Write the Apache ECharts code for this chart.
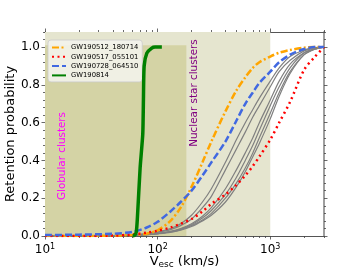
<!DOCTYPE html>
<html>
<head>
<meta charset="utf-8">
<script src="https://cdn.jsdelivr.net/npm/echarts@6/dist/echarts.min.js"></script>
<style>html,body{margin:0;padding:0;background:#fff}#c{width:360px;height:270px}</style>
</head>
<body>
<div id="c"></div>
<script>
// ---- data ----
const vGrid = [10,20,40,60,80,100,130,160,200,250,300,400,500,600,700,800,1000,1200,1500,2000,2500,3000];
const orangeP = [0,0,0.002,0.005,0.012,0.03,0.08,0.15,0.26,0.39,0.50,0.66,0.77,0.84,0.89,0.92,0.95,0.97,0.985,0.997,1.0,1.0];
const redP    = [0,0,0.002,0.008,0.018,0.028,0.045,0.065,0.09,0.13,0.17,0.22,0.27,0.32,0.37,0.42,0.51,0.60,0.71,0.88,0.95,1.0];
const blueP   = [0.005,0.007,0.012,0.022,0.045,0.075,0.13,0.18,0.24,0.32,0.39,0.50,0.61,0.70,0.76,0.81,0.87,0.92,0.96,0.99,1.0,1.0];
const greenV  = [60,62,64.6,66.1,69.9,73.8,74.8,75.9,80.2,88.7,95,109];
const greenP  = [0,0.002,0.02,0.094,0.36,0.54,0.72,0.90,0.968,0.995,1.0,1.0];
const grayP = [
  [0,0,0.002,0.006,0.013,0.022,0.04,0.065,0.11,0.18,0.25,0.39,0.51,0.60,0.67,0.73,0.82,0.89,0.95,0.985,0.997,1.0],
  [0,0,0.002,0.005,0.011,0.019,0.034,0.055,0.09,0.15,0.21,0.35,0.46,0.55,0.63,0.69,0.79,0.87,0.93,0.98,0.995,1.0],
  [0,0,0.001,0.004,0.008,0.014,0.025,0.04,0.065,0.105,0.15,0.25,0.35,0.44,0.52,0.60,0.72,0.82,0.91,0.97,0.99,1.0],
  [0,0,0.001,0.004,0.008,0.013,0.023,0.037,0.06,0.095,0.135,0.22,0.31,0.40,0.48,0.56,0.69,0.79,0.89,0.97,0.99,1.0],
  [0,0,0.001,0.003,0.007,0.012,0.021,0.034,0.055,0.085,0.12,0.20,0.28,0.36,0.44,0.52,0.65,0.76,0.87,0.96,0.99,1.0],
  [0,0,0.001,0.003,0.006,0.011,0.019,0.031,0.05,0.08,0.11,0.18,0.26,0.34,0.42,0.49,0.62,0.74,0.86,0.96,0.99,1.0]
];
const legendNames = ['GW190512_180714','GW190517_055101','GW190728_064510','GW190814'];
const globularRange = [10,180];
const nuclearRange = [10,1000];
const xMajor = [10,100,1000];
const xMinor = [20,30,40,50,60,70,80,90,200,300,400,500,600,700,800,900,2000,3000];
const yMajor = [0,0.2,0.4,0.6,0.8,1.0];
const yMinor = [0.04,0.08,0.12,0.16,0.24,0.28,0.32,0.36,0.44,0.48,0.52,0.56,0.64,0.68,0.72,0.76,0.84,0.88,0.92,0.96,1.04,1.08];

const zip = (xs, ys) => xs.map((x, i) => [x, ys[i]]);
const FONT = 'DejaVu Sans';
const spine = '#555';

function xAx(pos, major, show) {
  return {
    type: 'log', logBase: 10, min: 10, max: 3000, position: pos,
    axisLine: { show: true, onZero: false, lineStyle: { color: spine, width: 1 } },
    axisTick: { show: true, inside: false, length: major ? 3.5 : 2, customValues: major ? xMajor : xMinor,
      lineStyle: { color: '#444', width: 0.8 } },
    axisLabel: show ? {
      show: true, customValues: xMajor, margin: 7, color: '#000', fontFamily: FONT, fontSize: 12,
      formatter: v => '10{sup|' + Math.round(Math.log10(v)) + '}',
      rich: { sup: { fontSize: 8, verticalAlign: 'top', fontFamily: FONT, color: '#000', padding: [0,0,6,0] } }
    } : { show: false },
    splitLine: { show: false }, minorTick: { show: false }
  };
}
function yAx(pos, major, show, color) {
  return {
    type: 'value', min: 0, max: 1.08, interval: 0.2, position: pos,
    axisLine: { show: true, onZero: false, lineStyle: { color: color || spine, width: color ? 1.5 : 1 } },
    axisTick: { show: true, inside: false, length: major ? 3.5 : 2, customValues: major ? yMajor : yMinor,
      lineStyle: { color: '#444', width: 0.8 } },
    axisLabel: show ? { show: true, customValues: yMajor, margin: 5, color: '#000', fontFamily: FONT, fontSize: 12,
      formatter: v => v.toFixed(1) } : { show: false },
    splitLine: { show: false }
  };
}

const series = [];
grayP.forEach((g, i) => {
  const s = {
    name: 'other' + i, type: 'line', data: zip(vGrid, g), smooth: 0.3, symbol: 'none',
    lineStyle: { color: '#808080', width: 1.2 }, silent: true, z: 3
  };
  if (i === 0) {
    s.markArea = {
      silent: true,
      data: [
        [{ xAxis: nuclearRange[0], itemStyle: { color: '#e5e5cf' } }, { xAxis: nuclearRange[1] }],
        [{ xAxis: globularRange[0], yAxis: 0, itemStyle: { color: '#d4d3a5' } }, { xAxis: globularRange[1], yAxis: 1.01 }]
      ]
    };
  }
  series.push(s);
});
series.push({ name: legendNames[0], type: 'line', data: zip(vGrid, orangeP), smooth: 0.3, symbol: 'none', z: 4,
  lineStyle: { color: '#ffa500', width: 2.5, type: [7, 2.5, 2, 2.5] }, itemStyle: { color: '#ffa500' } });
series.push({ name: legendNames[1], type: 'line', data: zip(vGrid, redP), smooth: 0.3, symbol: 'none', z: 4,
  lineStyle: { color: '#ff0000', width: 2.5, type: [2, 3.5] }, itemStyle: { color: '#ff0000' } });
series.push({ name: legendNames[2], type: 'line', data: zip(vGrid, blueP), smooth: 0.3, symbol: 'none', z: 4,
  lineStyle: { color: '#4169e1', width: 2.5, type: [7, 3] }, itemStyle: { color: '#4169e1' } });
series.push({ name: legendNames[3], type: 'line', data: zip(greenV, greenP), smooth: 0.2, symbol: 'none', z: 5,
  lineStyle: { color: '#008000', width: 3.5 }, itemStyle: { color: '#008000' } });

const chart = echarts.init(document.getElementById('c'), null, { renderer: 'canvas' });
chart.setOption({
  animation: false,
  backgroundColor: '#fff',
  grid: { left: 45, right: 36, top: 32, bottom: 34, containLabel: false, outerBoundsMode: 'none' },
  xAxis: [
    Object.assign(xAx('bottom', true, true), {
      name: 'V{sub|esc} (km/s)', nameLocation: 'middle', nameGap: 18, nameMoveOverlap: false,
      nameTextStyle: { fontFamily: FONT, fontSize: 13, color: '#000',
        rich: { sub: { fontSize: 9, verticalAlign: 'bottom', fontFamily: FONT, color: '#000', padding: [6,0,0,0] } } }
    }),
    xAx('bottom', false, false),
    xAx('top', true, false),
    xAx('top', false, false)
  ],
  yAxis: [
    Object.assign(yAx('left', true, true), {
      name: 'Retention probability', nameLocation: 'middle', nameGap: 28, nameMoveOverlap: false,
      nameTextStyle: { fontFamily: FONT, fontSize: 13, color: '#000' }
    }),
    yAx('left', false, false),
    yAx('right', true, false, '#999'),
    yAx('right', false, false, '#999')
  ],
  legend: {
    data: legendNames, orient: 'vertical', left: 48, top: 40,
    itemWidth: 14, itemHeight: 8, itemGap: 2.3,
    backgroundColor: 'rgba(244,244,238,0.85)', borderColor: '#cccccc', borderWidth: 0.8, borderRadius: 3,
    padding: [4, 4, 3, 3],
    textStyle: { fontFamily: FONT, fontSize: 6.8, color: '#000', padding: [0,0,0,0] },
    itemStyle: { opacity: 0 }
  },
  graphic: [
    { type: 'text', x: 62.5, y: 156, rotation: Math.PI / 2, z: 10,
      style: { text: 'Globular clusters', fill: '#ff00ff', font: '10.4px "DejaVu Sans"', align: 'center', verticalAlign: 'middle' } },
    { type: 'text', x: 194, y: 93, rotation: Math.PI / 2, z: 10,
      style: { text: 'Nuclear star clusters', fill: '#800080', font: '10.4px "DejaVu Sans"', align: 'center', verticalAlign: 'middle' } }
  ],
  series: series
});
</script>
</body>
</html>
